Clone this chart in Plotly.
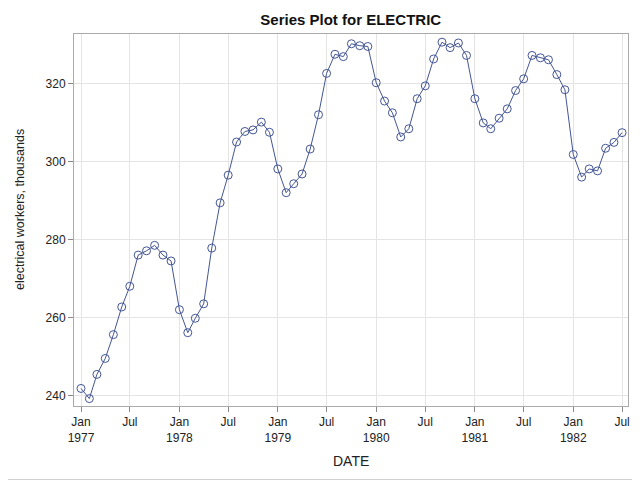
import plotly.graph_objects as go
import pandas as pd

start_month = "1977-01-01"
n_months = 67
electric = [
    241.9, 239.3, 245.5, 249.6, 255.7, 262.8, 268.1, 276.1, 277.2, 278.6, 276.1, 274.6,
    262.1, 256.2, 259.9, 263.6, 277.9, 289.5, 296.6, 305.1, 307.8, 308.2, 310.2, 307.6,
    298.2, 292.1, 294.4, 296.9, 303.3, 312.1, 322.7, 327.6, 327.0, 330.3, 329.8, 329.6,
    320.3, 315.6, 312.6, 306.4, 308.5, 316.2, 319.5, 326.4, 330.7, 329.3, 330.5, 327.3,
    316.2, 310.0, 308.5, 311.2, 313.6, 318.3, 321.3, 327.3, 326.7, 326.2, 322.4, 318.5,
    301.9, 296.1, 298.2, 297.7, 303.5, 305.0, 307.5,
]
dates = pd.date_range(start_month, periods=n_months, freq="MS")

x_tickvals = ["1977-01-01", "1977-07-01", "1978-01-01", "1978-07-01", "1979-01-01",
              "1979-07-01", "1980-01-01", "1980-07-01", "1981-01-01", "1981-07-01",
              "1982-01-01", "1982-07-01"]
x_ticktext = ["Jan<br>1977", "Jul", "Jan<br>1978", "Jul", "Jan<br>1979", "Jul",
              "Jan<br>1980", "Jul", "Jan<br>1981", "Jul", "Jan<br>1982", "Jul"]
y_tickvals = [240, 260, 280, 300, 320]

line_color = "#445694"
font = "Liberation Sans, Arial, sans-serif"

fig = go.Figure()
fig.add_trace(go.Scatter(
    x=dates, y=electric, mode="lines+markers",
    line=dict(color=line_color, width=1),
    marker=dict(symbol="circle-open", size=8, color=line_color, line=dict(width=1, color=line_color)),
    showlegend=False,
))

# page body has an 8px margin; figure is sized/margined so the plot area lands
# at absolute x 74..628, y 34..406
OFF = 8
W, H = 640 - OFF, 480 - OFF
L, R, T, B = 74 - OFF, 12, 34 - OFF, 74
pw, ph = W - L - R, H - T - B

fig.update_layout(
    width=W, height=H,
    margin=dict(l=L, r=R, t=T, b=B, autoexpand=False),
    paper_bgcolor="white", plot_bgcolor="white",
    font=dict(family=font, size=12, color="#222222"),
    title=dict(text="<b>Series Plot for ELECTRIC</b>", x=(350.75 - OFF) / W, xanchor="center",
               y=1 - (20 - OFF) / H, yanchor="middle", font=dict(size=15, color="#111111")),
    xaxis=dict(
        type="date",
        range=["1976-12-06", "1982-07-23"],
        tickmode="array", tickvals=x_tickvals, ticktext=x_ticktext,
        ticks="outside", ticklen=5, tickcolor="#888888",
        showgrid=True, gridcolor="#e4e4e4", gridwidth=1,
        showline=True, linecolor="#aaaaaa", linewidth=1, mirror=True,
        zeroline=False,
        tickfont=dict(size=12, color="#222222"),
    ),
    yaxis=dict(
        range=[237.4, 332.8],
        tickmode="array", tickvals=y_tickvals,
        ticks="outside", ticklen=5, tickcolor="#888888",
        showgrid=True, gridcolor="#e4e4e4", gridwidth=1,
        showline=True, linecolor="#aaaaaa", linewidth=1, mirror=True,
        zeroline=False,
        tickfont=dict(size=12, color="#222222"),
    ),
)

# axis titles placed as annotations
fig.add_annotation(text="DATE", xref="paper", yref="paper",
                   x=(351 - 74) / pw, y=(406 - 461) / ph, xanchor="center", yanchor="middle",
                   showarrow=False, font=dict(size=14, color="#222222"))
fig.add_annotation(text="electrical workers, thousands", xref="paper", yref="paper",
                   x=(20 - 74) / pw, y=(406 - 210) / ph, xanchor="center", yanchor="middle",
                   textangle=-90, showarrow=False, font=dict(size=12.5, color="#222222"))

# right and bottom parts of the outer light border around the graphic
fig.add_shape(type="line", xref="paper", yref="paper",
              x0=(639.5 - 74) / pw, x1=(639.5 - 74) / pw,
              y0=(406 - 479.5) / ph, y1=(406 - OFF) / ph,
              line=dict(color="#d0d0d0", width=1))
fig.add_shape(type="line", xref="paper", yref="paper",
              x0=(OFF - 74) / pw, x1=(639.5 - 74) / pw,
              y0=(406 - 479.5) / ph, y1=(406 - 479.5) / ph,
              line=dict(color="#d0d0d0", width=1))

fig.write_html("out.html")
